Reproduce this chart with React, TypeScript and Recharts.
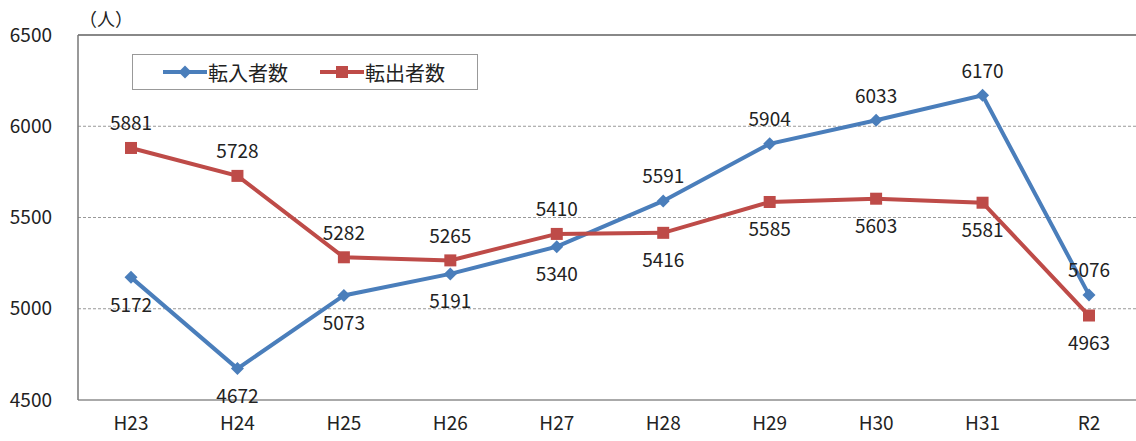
import React from "react";
import { LineChart, Line, XAxis, YAxis, CartesianGrid, ReferenceLine, LabelList } from "recharts";

const years = ["H23", "H24", "H25", "H26", "H27", "H28", "H29", "H30", "H31", "R2"];
const movedIn = [5172, 4672, 5073, 5191, 5340, 5591, 5904, 6033, 6170, 5076];
const movedOut = [5881, 5728, 5282, 5265, 5410, 5416, 5585, 5603, 5581, 4963];
const yTicks = [4500, 5000, 5500, 6000, 6500];

// which side each value label sits on
const inSide = ["below", "below", "below", "below", "below", "above", "above", "above", "above", "above"];
const outSide = ["above", "above", "above", "above", "above", "below", "below", "below", "below", "below"];

const data = years.map((year, i) => ({ year, in: movedIn[i], out: movedOut[i] }));

const BLUE = "#4A7EBB";
const RED = "#BE4B48";
const FONT = "'Noto Sans CJK JP', 'Noto Sans', sans-serif";

const Diamond = (props: any) => {
  const { cx, cy } = props;
  if (cx == null || cy == null) return null;
  const r = 6.5;
  return <polygon points={`${cx},${cy - r} ${cx + r},${cy} ${cx},${cy + r} ${cx - r},${cy}`} fill={BLUE} />;
};

const Square = (props: any) => {
  const { cx, cy } = props;
  if (cx == null || cy == null) return null;
  return <rect x={cx - 6} y={cy - 6} width={12} height={12} fill={RED} />;
};

const makeLabel = (sides: string[]) => (props: any) => {
  const { x, y, value, index } = props;
  const dy = sides[index] === "above" ? -26 : 26;
  return (
    <text x={x} y={y + dy} textAnchor="middle" dominantBaseline="central" fontSize={19} fill="#222" fontFamily={FONT}>
      {value}
    </text>
  );
};

const LegendBox = () => (
  <div
    style={{
      position: "absolute",
      left: 132,
      top: 54,
      width: 344,
      height: 34,
      border: "1px solid #999",
      background: "#fff",
      display: "flex",
      alignItems: "center",
      fontFamily: FONT,
      fontSize: 20,
      color: "#222",
    }}
  >
    <svg width={44} height={14} style={{ marginLeft: 30 }}>
      <line x1={0} y1={7} x2={44} y2={7} stroke={BLUE} strokeWidth={4} />
      <polygon points="22,0.5 28.5,7 22,13.5 15.5,7" fill={BLUE} />
    </svg>
    <span style={{ marginLeft: 1 }}>転入者数</span>
    <svg width={44} height={14} style={{ marginLeft: 32 }}>
      <line x1={0} y1={7} x2={44} y2={7} stroke={RED} strokeWidth={4} />
      <rect x={16} y={1} width={12} height={12} fill={RED} />
    </svg>
    <span style={{ marginLeft: 1 }}>転出者数</span>
  </div>
);

export default function App() {
  return (
    <div style={{ position: "absolute", left: 0, top: 0, width: 1136, height: 441, overflow: "hidden", background: "#fff" }}>
      <div style={{ position: "absolute", left: 79, top: 5, fontFamily: FONT, fontSize: 18, color: "#222" }}>（人）</div>
      <LineChart width={1142} height={441} data={data} margin={{ top: 35, right: 0, bottom: 0, left: 0 }}>
        <CartesianGrid vertical={false} stroke="#999" strokeDasharray="3 2" />
        <ReferenceLine y={6500} stroke="#888" strokeWidth={2} />
        <XAxis
          dataKey="year"
          height={41}
          padding={{ left: 53, right: 53 }}
          tickLine={false}
          tickSize={0}
          tickMargin={17}
          axisLine={{ stroke: "#aaa", strokeWidth: 2 }}
          tick={{ fontSize: 19, fill: "#222", fontFamily: FONT }}
        />
        <YAxis
          width={78}
          domain={[4500, 6500]}
          ticks={yTicks}
          tickLine={false}
          tickSize={0}
          tickMargin={26}
          axisLine={{ stroke: "#777", strokeWidth: 1.5 }}
          tick={{ fontSize: 19, fill: "#222", fontFamily: FONT }}
        />
        <Line dataKey="in" name="転入者数" stroke={BLUE} strokeWidth={4} dot={<Diamond />} activeDot={false} isAnimationActive={false}>
          <LabelList dataKey="in" content={makeLabel(inSide)} />
        </Line>
        <Line dataKey="out" name="転出者数" stroke={RED} strokeWidth={4} dot={<Square />} activeDot={false} isAnimationActive={false}>
          <LabelList dataKey="out" content={makeLabel(outSide)} />
        </Line>
      </LineChart>
      <LegendBox />
    </div>
  );
}
